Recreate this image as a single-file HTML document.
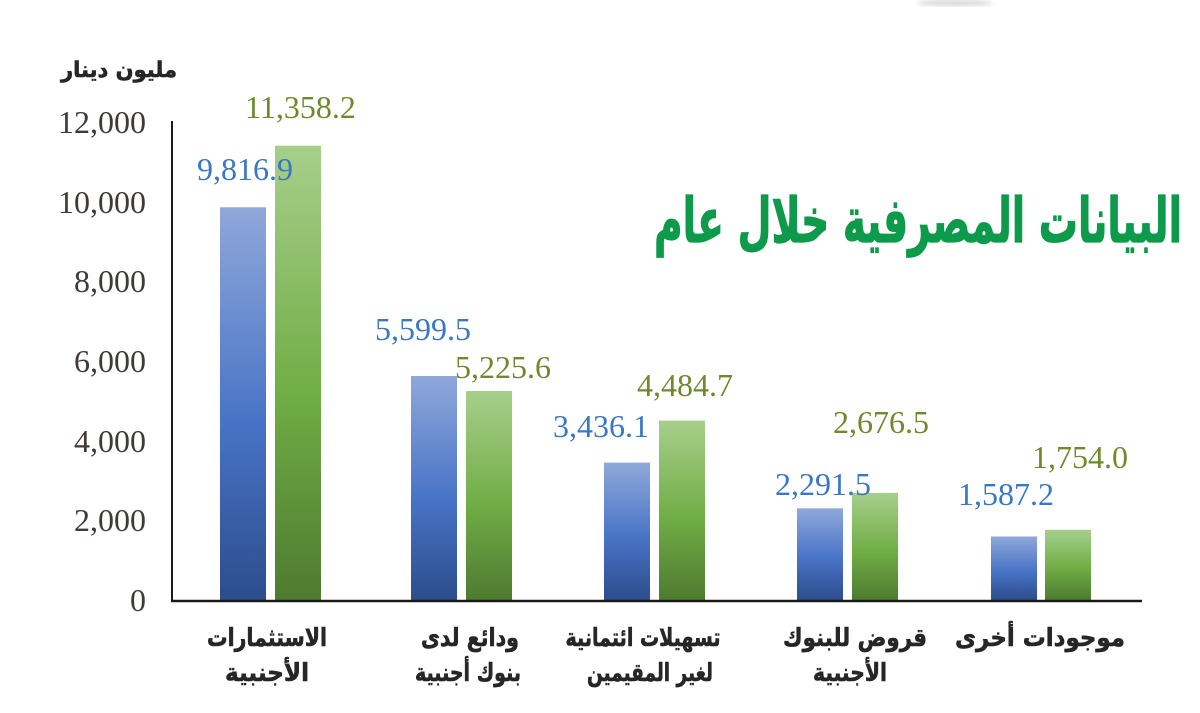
<!DOCTYPE html>
<html>
<head>
<meta charset="utf-8">
<style>
  html,body{margin:0;padding:0;background:#fff;}
  svg{display:block;}
  .tick{font-family:"Liberation Serif",serif;font-size:32px;fill:#3f3a37;text-anchor:end;}
  .vb{font-family:"Liberation Serif",serif;font-size:32px;fill:#3a78c4;}
  .vg{font-family:"Liberation Serif",serif;font-size:32px;fill:#6f8a2c;}
  .ar{font-family:"DejaVu Sans",sans-serif;font-weight:bold;fill:#262626;text-anchor:middle;stroke:#262626;stroke-width:0.6;}
</style>
</head>
<body>
<svg width="1200" height="713" viewBox="0 0 1200 713" xmlns="http://www.w3.org/2000/svg">
  <defs>
    <linearGradient id="gb" x1="0" y1="0" x2="0" y2="1">
      <stop offset="0" stop-color="#8fa8da"/>
      <stop offset="0.55" stop-color="#4873c6"/>
      <stop offset="1" stop-color="#2d4d8c"/>
    </linearGradient>
    <linearGradient id="gg" x1="0" y1="0" x2="0" y2="1">
      <stop offset="0" stop-color="#a7cf8b"/>
      <stop offset="0.55" stop-color="#70ad45"/>
      <stop offset="1" stop-color="#4e7b30"/>
    </linearGradient>
    <filter id="blur"><feGaussianBlur stdDeviation="2"/></filter>
  </defs>
  <rect width="1200" height="713" fill="#fff"/>
  <ellipse cx="955" cy="3" rx="38" ry="3" fill="#d8d8d8" filter="url(#blur)"/>

  <!-- y-axis unit label -->
  <text class="ar" x="119" y="77" font-size="22" textLength="116" lengthAdjust="spacingAndGlyphs">مليون دينار</text>

  <!-- tick labels -->
  <text class="tick" x="146" y="133">12,000</text>
  <text class="tick" x="146" y="213">10,000</text>
  <text class="tick" x="146" y="292">8,000</text>
  <text class="tick" x="146" y="372">6,000</text>
  <text class="tick" x="146" y="452">4,000</text>
  <text class="tick" x="146" y="531">2,000</text>
  <text class="tick" x="146" y="611">0</text>

  <!-- bars -->
  <rect x="220" y="207.3" width="46" height="392.7" fill="url(#gb)"/>
  <rect x="275" y="145.7" width="46" height="454.3" fill="url(#gg)"/>
  <rect x="411" y="376" width="46" height="224" fill="url(#gb)"/>
  <rect x="466" y="391" width="46" height="209" fill="url(#gg)"/>
  <rect x="604" y="462.6" width="46" height="137.4" fill="url(#gb)"/>
  <rect x="659" y="420.6" width="46" height="179.4" fill="url(#gg)"/>
  <rect x="797" y="508.3" width="46" height="91.7" fill="url(#gb)"/>
  <rect x="852" y="492.9" width="46" height="107.1" fill="url(#gg)"/>
  <rect x="991" y="536.5" width="46" height="63.5" fill="url(#gb)"/>
  <rect x="1045" y="529.8" width="46" height="70.2" fill="url(#gg)"/>

  <!-- axes -->
  <line x1="172" y1="121" x2="172" y2="602" stroke="#1a1a1a" stroke-width="2"/>
  <line x1="171" y1="601" x2="1142" y2="601" stroke="#1a1a1a" stroke-width="2.5"/>

  <!-- value labels -->
  <text class="vb" x="197" y="180">9,816.9</text>
  <text class="vg" x="245" y="118">11,358.2</text>
  <text class="vb" x="375" y="340">5,599.5</text>
  <text class="vg" x="455" y="378">5,225.6</text>
  <text class="vb" x="553" y="437">3,436.1</text>
  <text class="vg" x="637" y="396">4,484.7</text>
  <text class="vb" x="775" y="495">2,291.5</text>
  <text class="vg" x="833" y="433">2,676.5</text>
  <text class="vb" x="958" y="505">1,587.2</text>
  <text class="vg" x="1032" y="468">1,754.0</text>

  <!-- title -->
  <text x="918" y="242" font-family="'DejaVu Sans',sans-serif" font-weight="bold" font-size="62" fill="#0d9a4a" stroke="#0d9a4a" stroke-width="1.2" text-anchor="middle" textLength="528" lengthAdjust="spacingAndGlyphs">البيانات المصرفية خلال عام</text>

  <!-- category labels -->
  <text class="ar" x="267" y="646" font-size="25" textLength="120" lengthAdjust="spacingAndGlyphs">الاستثمارات</text>
  <text class="ar" x="267" y="681" font-size="25" textLength="84" lengthAdjust="spacingAndGlyphs">الأجنبية</text>

  <text class="ar" x="470" y="646" font-size="25" textLength="98" lengthAdjust="spacingAndGlyphs">ودائع لدى</text>
  <text class="ar" x="468" y="681" font-size="25" textLength="106" lengthAdjust="spacingAndGlyphs">بنوك أجنبية</text>

  <text class="ar" x="643" y="646" font-size="25" textLength="155" lengthAdjust="spacingAndGlyphs">تسهيلات ائتمانية</text>
  <text class="ar" x="650" y="681" font-size="25" textLength="126" lengthAdjust="spacingAndGlyphs">لغير المقيمين</text>

  <text class="ar" x="855" y="646" font-size="25" textLength="144" lengthAdjust="spacingAndGlyphs">قروض للبنوك</text>
  <text class="ar" x="850" y="681" font-size="25" textLength="74" lengthAdjust="spacingAndGlyphs">الأجنبية</text>

  <text class="ar" x="1040" y="646" font-size="25" textLength="170" lengthAdjust="spacingAndGlyphs">موجودات أخرى</text>
</svg>
</body>
</html>
